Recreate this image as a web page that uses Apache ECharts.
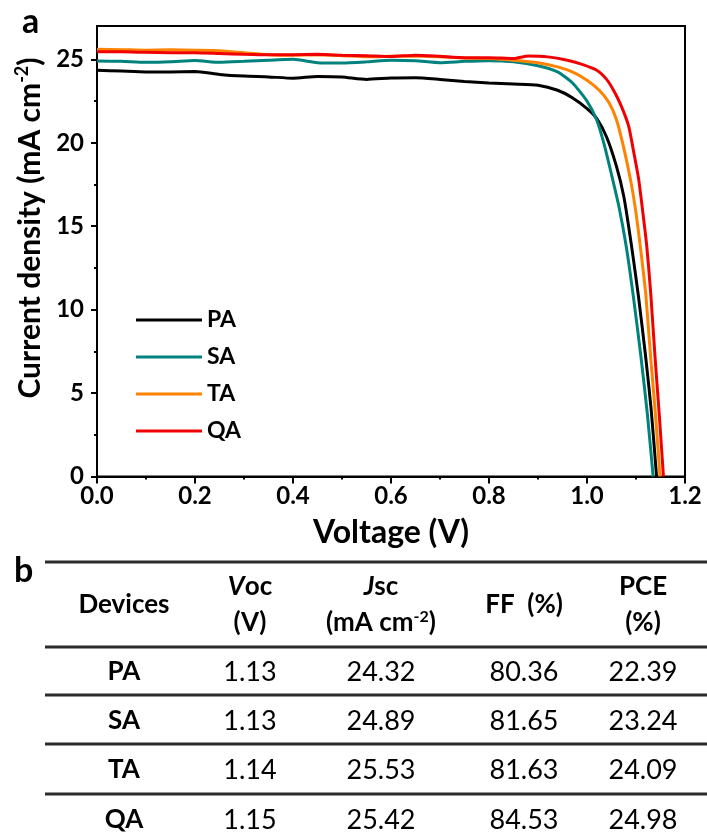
<!DOCTYPE html>
<html>
<head>
<meta charset="utf-8">
<script src="https://cdn.jsdelivr.net/npm/echarts@6/dist/echarts.min.js"></script>
<style>
html,body{margin:0;padding:0;background:#fff;}
#chart{width:707px;height:839px;}
</style>
</head>
<body>
<div id="chart"></div>
<script>
// ---- data ----
var seriesNames = ['PA', 'SA', 'TA', 'QA'];
var paCurve = [[0,24.35],[0.05,24.3],[0.1,24.25],[0.15,24.25],[0.2,24.27],[0.25,24.1],[0.3,24.0],[0.35,23.95],[0.4,23.87],[0.45,23.98],[0.5,23.95],[0.55,23.8],[0.6,23.88],[0.65,23.9],[0.7,23.8],[0.75,23.68],[0.8,23.58],[0.85,23.52],[0.9,23.45],[0.94,23.15],[0.97,22.7],[1.0,22.05],[1.02,21.45],[1.04,20.35],[1.06,18.6],[1.075,16.8],[1.09,14.0],[1.105,10.8],[1.12,7.1],[1.131,4.0],[1.142,0]];
var saCurve = [[0,24.9],[0.05,24.88],[0.1,24.82],[0.15,24.85],[0.2,24.93],[0.25,24.82],[0.3,24.88],[0.35,24.95],[0.4,25.0],[0.45,24.8],[0.5,24.78],[0.55,24.85],[0.6,24.95],[0.65,24.92],[0.7,24.8],[0.75,24.88],[0.8,24.92],[0.85,24.85],[0.9,24.62],[0.94,24.25],[0.97,23.6],[1.0,22.5],[1.02,21.35],[1.035,19.9],[1.05,18.1],[1.065,16.2],[1.08,13.8],[1.095,10.7],[1.11,7.2],[1.123,3.8],[1.135,0]];
var taCurve = [[0,25.6],[0.05,25.58],[0.1,25.55],[0.15,25.57],[0.2,25.55],[0.25,25.52],[0.3,25.4],[0.35,25.28],[0.4,25.25],[0.45,25.27],[0.5,25.22],[0.55,25.15],[0.6,25.18],[0.65,25.2],[0.7,25.15],[0.75,25.08],[0.8,25.05],[0.85,24.95],[0.9,24.8],[0.94,24.55],[0.97,24.25],[1.0,23.75],[1.025,23.15],[1.045,22.4],[1.06,21.4],[1.075,19.7],[1.09,17.6],[1.1,15.8],[1.11,13.5],[1.12,10.9],[1.13,7.1],[1.14,3.6],[1.149,0]];
var qaCurve = [[0,25.45],[0.05,25.45],[0.1,25.42],[0.15,25.4],[0.2,25.4],[0.25,25.35],[0.3,25.3],[0.35,25.27],[0.4,25.28],[0.45,25.3],[0.5,25.25],[0.55,25.22],[0.6,25.17],[0.65,25.25],[0.7,25.18],[0.75,25.1],[0.8,25.1],[0.85,25.05],[0.88,25.2],[0.92,25.15],[0.96,24.95],[0.99,24.7],[1.02,24.35],[1.04,23.8],[1.055,23.1],[1.07,22.2],[1.085,21.0],[1.095,19.5],[1.105,17.9],[1.112,16.3],[1.122,13.8],[1.13,11.0],[1.139,7.1],[1.148,3.5],[1.156,0]];
var yMajorTicks = [0, 5, 10, 15, 20, 25];
var yMinorTicks = [2.5, 7.5, 12.5, 17.5, 22.5];

// table data
var tableHeader = ['Devices', 'Voc (V)', 'Jsc (mA cm-2)', 'FF  (%)', 'PCE (%)'];
var devices = ['PA', 'SA', 'TA', 'QA'];
var vocValues = [1.13, 1.13, 1.14, 1.15];
var jscValues = [24.32, 24.89, 25.53, 25.42];
var ffValues = [80.36, 81.65, 81.63, 84.53];
var pceValues = [22.39, 23.24, 24.09, 24.98];

// ---- styling ----
var FONT = 'Lato, "Open Sans", sans-serif';
var colors = ['#000000', '#00827d', '#ff8200', '#f00000'];
var curves = [paCurve, saCurve, taCurve, qaCurve];

var chart = echarts.init(document.getElementById('chart'), null, {renderer: 'canvas'});

var series = seriesNames.map(function (n, i) {
  return {
    name: n, type: 'line', data: curves[i], showSymbol: false, symbol: 'none',
    smooth: 0.2, lineStyle: {color: colors[i], width: 3}, itemStyle: {color: colors[i]},
    xAxisIndex: 0, yAxisIndex: 0
  };
});

// table graphics
var colX = [124, 250, 381, 524, 643];
var rowY = [672, 721, 770, 820];
var lineY = [562, 647, 695, 744, 794];
var g = [];
g.push({type: 'text', x: 22, y: 39, style: {text: 'a', font: 'bold 34px ' + FONT, fill: '#000', textAlign: 'left', textVerticalAlign: 'bottom'}});
g.push({type: 'text', x: 14, y: 588, style: {text: 'b', font: 'bold 34px ' + FONT, fill: '#000', textAlign: 'left', textVerticalAlign: 'bottom'}});
g.push({
  type: 'text', x: 30, y: 228, rotation: Math.PI / 2,
  style: {
    text: '{n|Current density (mA cm}{s|-2}{n|)}',
    textAlign: 'center', textVerticalAlign: 'middle', fill: '#000',
    rich: {
      n: {fontSize: 30, fontWeight: 'bold', fontFamily: FONT, fill: '#000'},
      s: {fontSize: 18, fontWeight: 'bold', fontFamily: FONT, fill: '#000', padding: [0, 0, 15, 0]}
    }
  }
});
lineY.forEach(function (y) {
  g.push({type: 'line', shape: {x1: 45, y1: y, x2: 707, y2: y}, style: {stroke: '#2b2b2b', lineWidth: 3}});
});
var HF = 'bold 26px ' + FONT;
function txt(x, y, t, font) {
  return {type: 'text', x: x, y: y, style: {text: t, font: font, fill: '#000', textAlign: 'center', textVerticalAlign: 'middle'}};
}
var richBase = {
  b: {fontSize: 26, fontWeight: 'bold', fontFamily: FONT, fill: '#000'},
  i: {fontSize: 26, fontWeight: 'bold', fontStyle: 'italic', fontFamily: FONT, fill: '#000'},
  s: {fontSize: 16, fontWeight: 'bold', fontFamily: FONT, fill: '#000', padding: [0, 0, 12, 0]}
};
function rtxt(x, y, t) {
  return {type: 'text', x: x, y: y, style: {text: t, rich: richBase, fill: '#000', textAlign: 'center', textVerticalAlign: 'middle'}};
}
g.push(txt(colX[0], 605, tableHeader[0], HF));
g.push(rtxt(colX[1], 587, '{i|V}{b|oc}'));
g.push(txt(colX[1], 623, '(V)', HF));
g.push(rtxt(colX[2], 587, '{i|J}{b|sc}'));
g.push(rtxt(colX[2], 623, '{b|(mA cm}{s|-2}{b|)}'));
g.push(txt(colX[3], 605, tableHeader[3], HF));
g.push(txt(colX[4], 587, 'PCE', HF));
g.push(txt(colX[4], 623, '(%)', HF));
devices.forEach(function (d, r) {
  var VF = '27px ' + FONT;
  g.push(txt(colX[0], rowY[r], d, 'bold 26px ' + FONT));
  g.push(txt(colX[1], rowY[r], vocValues[r].toFixed(2), VF));
  g.push(txt(colX[2], rowY[r], jscValues[r].toFixed(2), VF));
  g.push(txt(colX[3], rowY[r], ffValues[r].toFixed(2), VF));
  g.push(txt(colX[4], rowY[r], pceValues[r].toFixed(2), VF));
});

var option = {
  animation: false,
  backgroundColor: '#fff',
  textStyle: {fontFamily: FONT},
  grid: {left: 97, right: 22, top: 26, bottom: 362.5, show: true, borderColor: '#000', borderWidth: 2, containLabel: false},
  legend: {
    data: seriesNames, orient: 'vertical', left: 136, top: 308.5, padding: 0,
    icon: 'rect', itemWidth: 66, itemHeight: 3, itemGap: 14,
    textStyle: {fontSize: 23, fontWeight: 'bold', fontFamily: FONT, color: '#000', lineHeight: 23}
  },
  xAxis: {
    type: 'value', min: 0, max: 1.2, interval: 0.2,
    name: 'Voltage (V)', nameLocation: 'middle', nameGap: 40,
    nameTextStyle: {fontSize: 32, fontWeight: 'bold', color: '#000', fontFamily: FONT},
    axisLine: {show: true, onZero: false, lineStyle: {color: '#000', width: 2}},
    axisTick: {show: true, inside: false, length: 7, lineStyle: {color: '#000', width: 2}},
    minorTick: {show: true, splitNumber: 2, length: 3, lineStyle: {color: '#000', width: 2}},
    splitLine: {show: false},
    axisLabel: {fontSize: 24, fontWeight: 'bold', color: '#000', margin: 8, fontFamily: FONT,
      formatter: function (v) { return v.toFixed(1); }}
  },
  yAxis: [{
    type: 'value', min: 0, max: 27,
    axisLine: {show: true, onZero: false, lineStyle: {color: '#000', width: 2}},
    axisTick: {show: true, inside: false, length: 6, lineStyle: {color: '#000', width: 2}, customValues: yMajorTicks},
    splitLine: {show: false},
    axisLabel: {fontSize: 24, fontWeight: 'bold', color: '#000', margin: 13, fontFamily: FONT, customValues: yMajorTicks}
  }, {
    type: 'value', min: 0, max: 27, position: 'left',
    axisLine: {show: false},
    axisTick: {show: true, inside: false, length: 3, lineStyle: {color: '#000', width: 2}, customValues: yMinorTicks},
    splitLine: {show: false},
    axisLabel: {show: false}
  }],
  series: series,
  graphic: g
};
chart.setOption(option);
</script>
</body>
</html>
